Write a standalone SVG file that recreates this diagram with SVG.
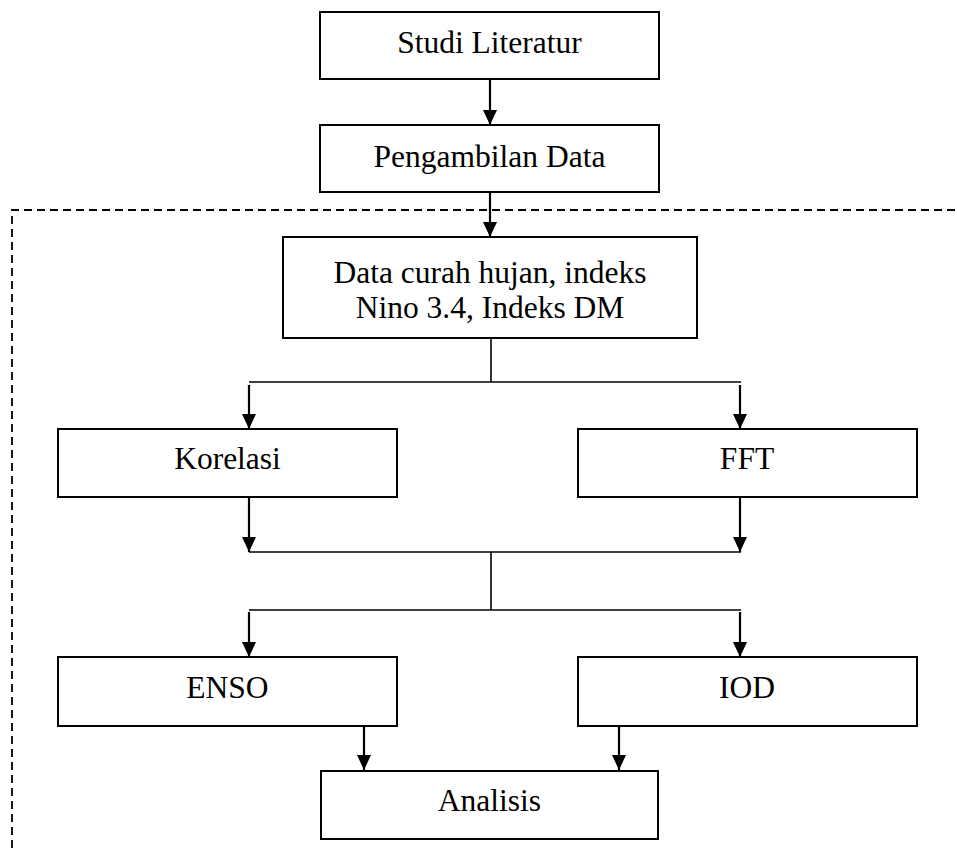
<svg xmlns="http://www.w3.org/2000/svg" width="957" height="848" viewBox="0 0 957 848">
<style>
.box{fill:#fff;stroke:#000;stroke-width:2}
.t{font-family:"Liberation Serif","Times New Roman",serif;font-size:31.5px;fill:#000;text-anchor:middle}
.ln{fill:none;stroke:#000;stroke-width:1.6}
.ar{fill:none;stroke:#000;stroke-width:2.2;marker-end:url(#ah)}
.dash{fill:none;stroke:#000;stroke-width:1.8;stroke-dasharray:8 5}
</style>
<defs>
<marker id="ah" markerWidth="15" markerHeight="14" refX="15" refY="7" orient="auto" markerUnits="userSpaceOnUse">
<path d="M0,0 L15,7 L0,14 Z" fill="#000"/>
</marker>
</defs>
<rect width="957" height="848" fill="#fff"/>
<g id="boundary">
<path class="dash" d="M12,848 L12,210 L957,210"/>
</g>
<g id="connectors">
<line class="ar" x1="490" y1="79" x2="490" y2="125"/>
<line class="ar" x1="490" y1="192" x2="490" y2="237"/>
<line class="ln" x1="491" y1="338" x2="491" y2="382"/>
<line class="ln" x1="249" y1="382" x2="741" y2="382"/>
<line class="ar" x1="249" y1="385" x2="249" y2="429"/>
<line class="ar" x1="740" y1="385" x2="740" y2="429"/>
<line class="ar" x1="249" y1="497" x2="249" y2="552"/>
<line class="ar" x1="740" y1="497" x2="740" y2="552"/>
<line class="ln" x1="249" y1="552" x2="741" y2="552"/>
<line class="ln" x1="491" y1="552" x2="491" y2="610"/>
<line class="ln" x1="249" y1="610" x2="741" y2="610"/>
<line class="ar" x1="249" y1="612" x2="249" y2="657"/>
<line class="ar" x1="740" y1="612" x2="740" y2="657"/>
<line class="ar" x1="364" y1="726" x2="364" y2="770"/>
<line class="ar" x1="619" y1="726" x2="619" y2="770"/>
</g>
<g id="studi">
<rect class="box" x="320" y="12" width="339" height="67"/>
<text class="t" x="489.5" y="53">Studi Literatur</text>
</g>
<g id="pengambilan">
<rect class="box" x="320" y="125" width="339" height="67"/>
<text class="t" x="489.5" y="167">Pengambilan Data</text>
</g>
<g id="data">
<rect class="box" x="283" y="237" width="414" height="101"/>
<text class="t" x="490" y="283">Data curah hujan, indeks</text>
<text class="t" x="490" y="318">Nino 3.4, Indeks DM</text>
</g>
<g id="korelasi">
<rect class="box" x="58" y="429" width="339" height="68"/>
<text class="t" x="227.5" y="469">Korelasi</text>
</g>
<g id="fft">
<rect class="box" x="578" y="429" width="339" height="68"/>
<text class="t" x="747" y="469">FFT</text>
</g>
<g id="enso">
<rect class="box" x="58" y="657" width="339" height="69"/>
<text class="t" x="227.5" y="698">ENSO</text>
</g>
<g id="iod">
<rect class="box" x="578" y="657" width="339" height="69"/>
<text class="t" x="747" y="698">IOD</text>
</g>
<g id="analisis">
<rect class="box" x="321" y="771" width="337" height="68"/>
<text class="t" x="489.5" y="811">Analisis</text>
</g>
</svg>
